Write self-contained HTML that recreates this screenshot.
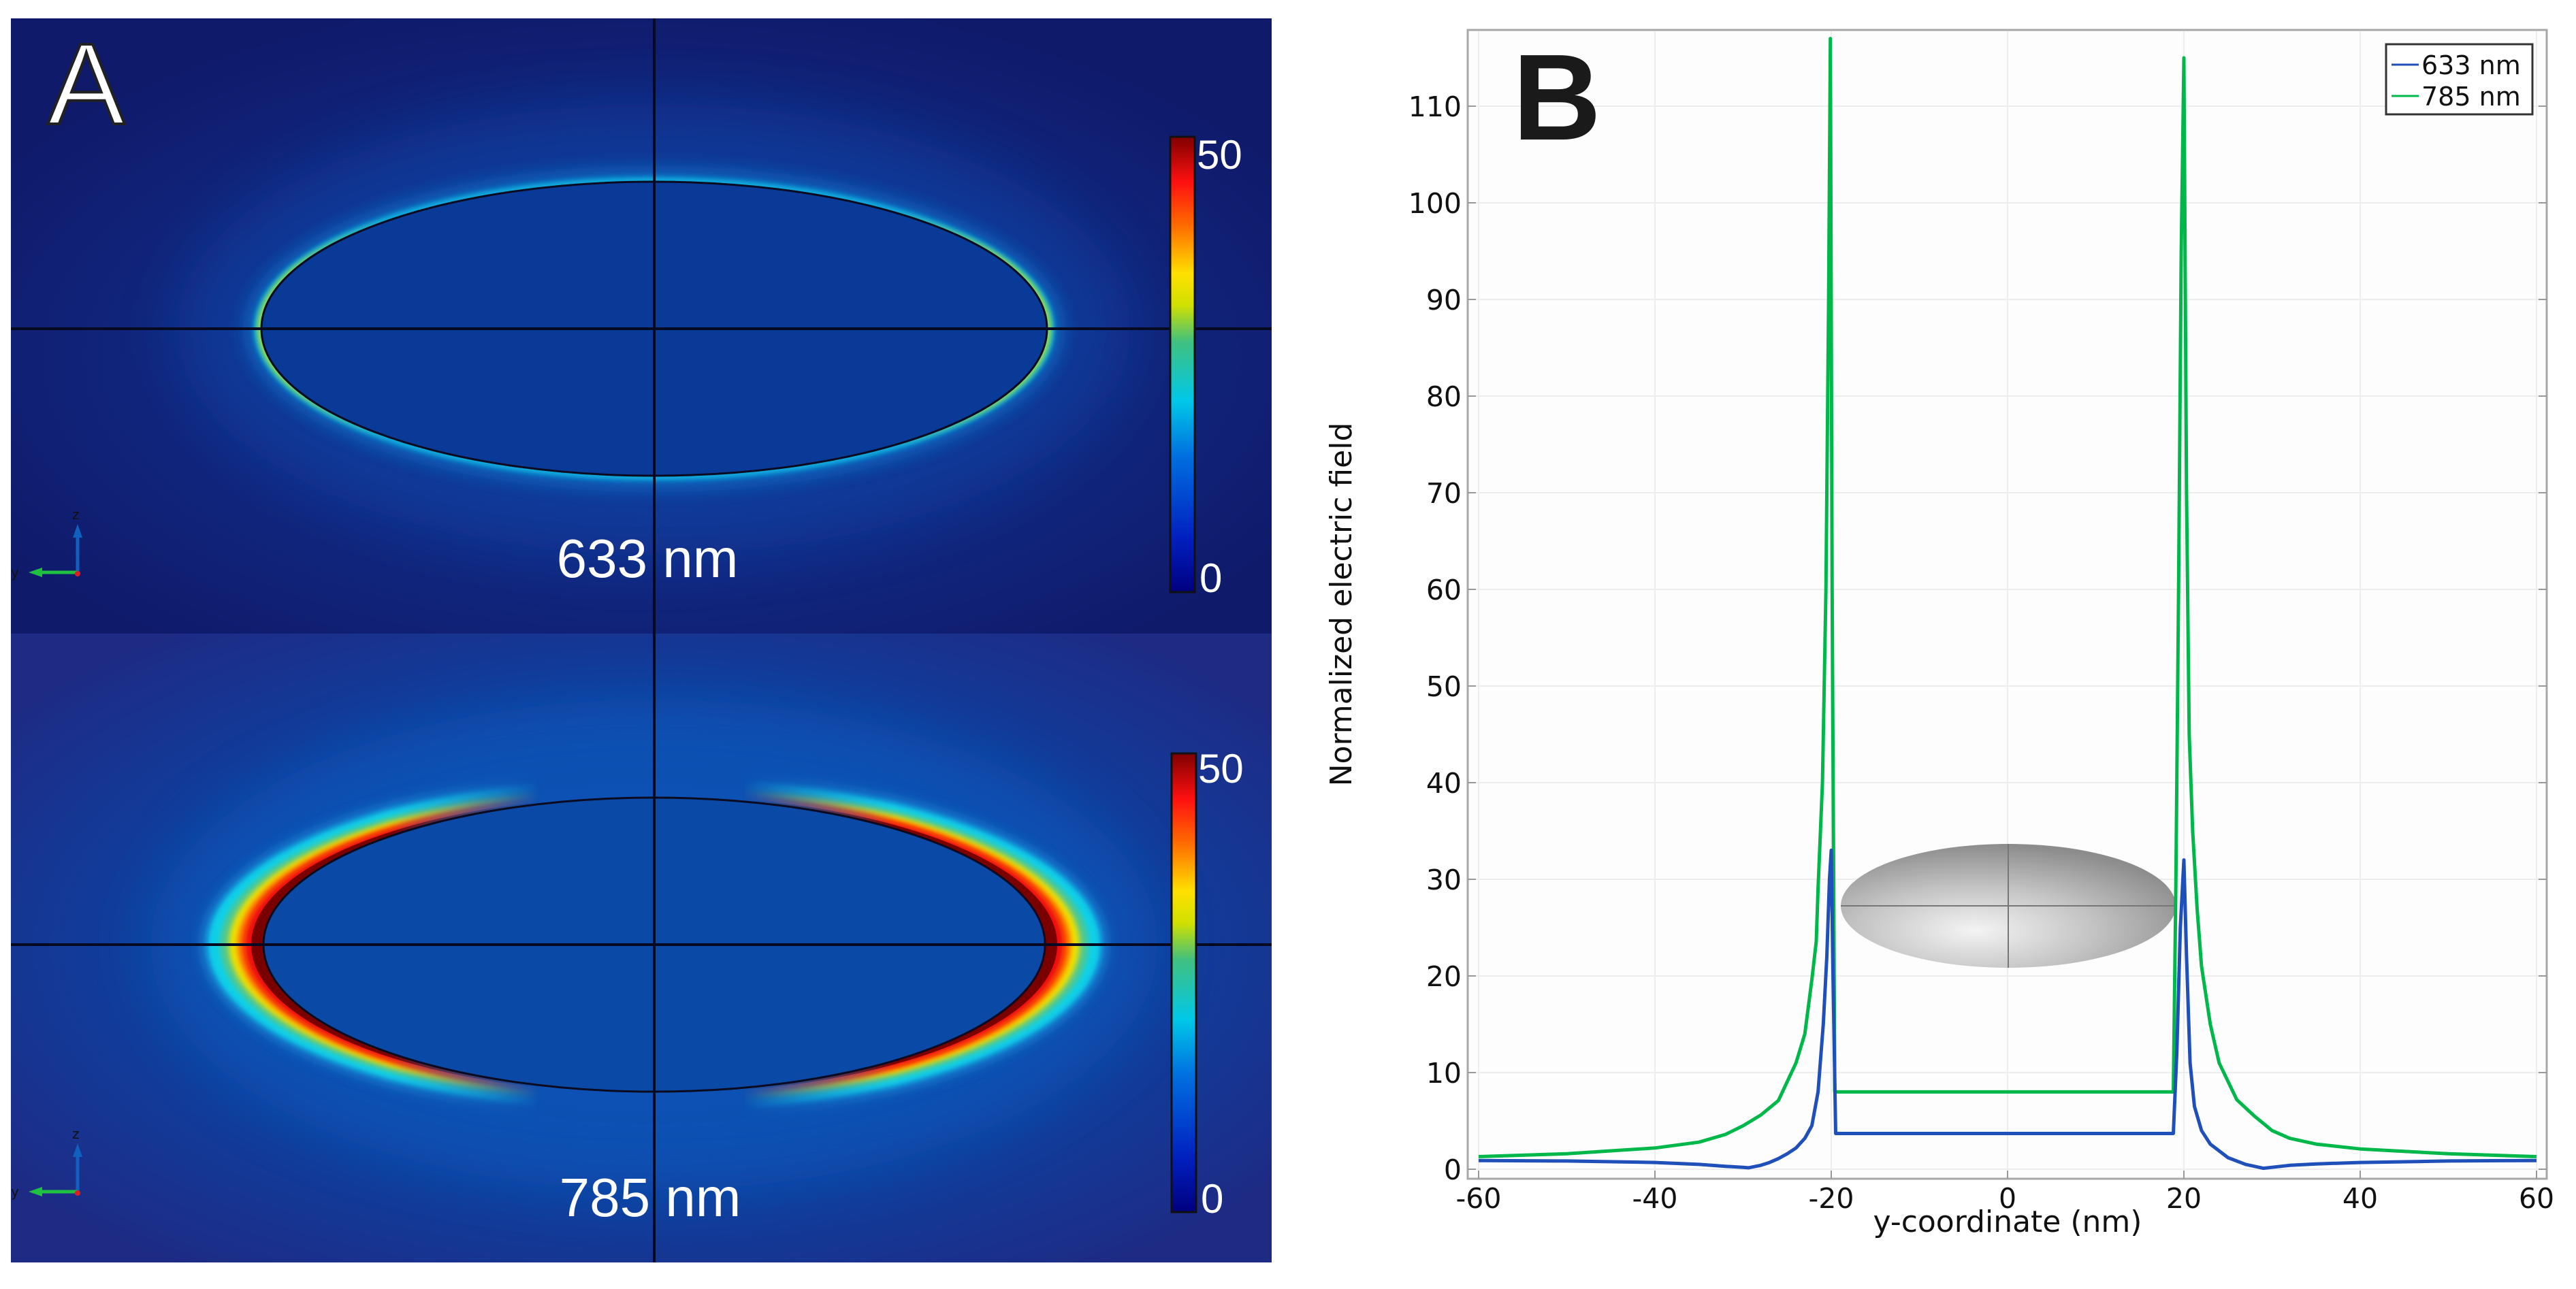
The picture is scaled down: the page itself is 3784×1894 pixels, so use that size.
<!DOCTYPE html>
<html><head><meta charset="utf-8">
<style>
html,body{margin:0;padding:0;background:#fff;}
svg{display:block;}
text{font-family:"DejaVu Sans","Liberation Sans",sans-serif;}
.lib{font-family:"Liberation Sans",sans-serif;}
</style></head>
<body>
<svg id="fig" width="3784" height="1894" viewBox="0 0 3784 1894" xmlns="http://www.w3.org/2000/svg">
<defs>
  <radialGradient id="bgTop" cx="0.5" cy="0.55" r="0.6">
    <stop offset="0" stop-color="#0d3a9e"/>
    <stop offset="0.45" stop-color="#122c88"/>
    <stop offset="1" stop-color="#0f1a6a"/>
  </radialGradient>
  <radialGradient id="bgBot" cx="0.5" cy="0.5" r="0.62">
    <stop offset="0" stop-color="#0a4fb0"/>
    <stop offset="0.55" stop-color="#0c44a4"/>
    <stop offset="1" stop-color="#1d2b85"/>
  </radialGradient>
  <linearGradient id="jet" x1="0" y1="1" x2="0" y2="0">
    <stop offset="0" stop-color="#00007f"/>
    <stop offset="0.12" stop-color="#0020c0"/>
    <stop offset="0.3" stop-color="#0070e0"/>
    <stop offset="0.42" stop-color="#00c8e8"/>
    <stop offset="0.55" stop-color="#40c080"/>
    <stop offset="0.63" stop-color="#d0e000"/>
    <stop offset="0.7" stop-color="#ffe000"/>
    <stop offset="0.8" stop-color="#ff7000"/>
    <stop offset="0.9" stop-color="#ff1010"/>
    <stop offset="1" stop-color="#800000"/>
  </linearGradient>
  <linearGradient id="endsMask" x1="0" y1="0" x2="1" y2="0">
    <stop offset="0" stop-color="#fff"/>
    <stop offset="0.3" stop-color="#fff"/>
    <stop offset="0.42" stop-color="#000"/>
    <stop offset="0.58" stop-color="#000"/>
    <stop offset="0.7" stop-color="#fff"/>
    <stop offset="1" stop-color="#fff"/>
  </linearGradient>
  <linearGradient id="endsMaskTight" x1="0" y1="0" x2="1" y2="0">
    <stop offset="0" stop-color="#fff"/>
    <stop offset="0.22" stop-color="#fff"/>
    <stop offset="0.3" stop-color="#000"/>
    <stop offset="0.7" stop-color="#000"/>
    <stop offset="0.78" stop-color="#fff"/>
    <stop offset="1" stop-color="#fff"/>
  </linearGradient>
  <mask id="mEnds" maskUnits="userSpaceOnUse" x="16" y="931" width="1852" height="930">
    <rect x="16" y="931" width="1852" height="930" fill="url(#endsMask)"/>
  </mask>
  <mask id="mEndsTop" maskUnits="userSpaceOnUse" x="16" y="27" width="1852" height="904">
    <rect x="16" y="27" width="1852" height="904" fill="url(#endsMaskTight)"/>
  </mask>
  <filter id="b4"><feGaussianBlur stdDeviation="4"/></filter>
  <filter id="b10"><feGaussianBlur stdDeviation="10"/></filter>
  <filter id="b40" x="-30%" y="-50%" width="160%" height="200%"><feGaussianBlur stdDeviation="40"/></filter>
  <radialGradient id="sph" cx="0.4" cy="0.7" r="0.7">
    <stop offset="0" stop-color="#f4f4f4"/>
    <stop offset="0.5" stop-color="#c4c4c4"/>
    <stop offset="1" stop-color="#8c8c8c"/>
  </radialGradient>
</defs>

<!-- PANEL A TOP -->
<g>
  <rect x="16" y="27" width="1852" height="904" fill="url(#bgTop)"/>
  <ellipse cx="961" cy="483" rx="700" ry="330" fill="#0f46a8" opacity="0.5" filter="url(#b40)"/>
  <ellipse cx="961" cy="483" rx="605" ry="240" fill="#0a70c8" opacity="0.6" filter="url(#b10)"/>
  <ellipse cx="961" cy="483" rx="588" ry="223" fill="#10b0e0" filter="url(#b4)"/>
  <ellipse cx="961" cy="483" rx="583" ry="218" fill="#a0e040" filter="url(#b4)" mask="url(#mEndsTop)"/>
  <ellipse cx="961" cy="483" rx="577" ry="216" fill="#0a3a98" stroke="#0a0a20" stroke-width="3"/>
  <line x1="16" y1="483" x2="1868" y2="483" stroke="#050a20" stroke-width="4"/>
  <text class="lib" x="951" y="848" font-size="80" fill="#fff" text-anchor="middle">633 nm</text>
</g>

<!-- PANEL A BOTTOM -->
<g>
  <rect x="16" y="931" width="1852" height="924" fill="url(#bgBot)"/>
  <ellipse cx="961" cy="1388" rx="740" ry="360" fill="#0a58bb" opacity="0.6" filter="url(#b40)"/>
  <ellipse cx="961" cy="1388" rx="662" ry="250" fill="#1a9be0" filter="url(#b10)" mask="url(#mEnds)"/>
  <g mask="url(#mEnds)">
    <ellipse cx="961" cy="1388" rx="655" ry="245" fill="#08d0e8" filter="url(#b4)"/>
    <ellipse cx="961" cy="1388" rx="638" ry="236" fill="#50c890" filter="url(#b4)"/>
    <ellipse cx="961" cy="1388" rx="625" ry="230" fill="#f0e000" filter="url(#b4)"/>
    <ellipse cx="961" cy="1388" rx="612" ry="226" fill="#ff6a00" filter="url(#b4)"/>
    <ellipse cx="961" cy="1388" rx="602" ry="222" fill="#ee1010" filter="url(#b4)"/>
    <ellipse cx="961" cy="1388" rx="592" ry="219" fill="#7a0000"/>
  </g>
  <ellipse cx="961" cy="1388" rx="574" ry="216" fill="#0a4aa6" stroke="#0a0a20" stroke-width="3"/>
  <line x1="16" y1="1388" x2="1868" y2="1388" stroke="#050a20" stroke-width="4"/>
  <text class="lib" x="955" y="1787" font-size="80" fill="#fff" text-anchor="middle">785 nm</text>
</g>
<line x1="961" y1="27" x2="961" y2="1855" stroke="#050a20" stroke-width="4"/>

<!-- colorbars -->
<g>
  <rect x="1719" y="201" width="36" height="669" fill="url(#jet)" stroke="#111" stroke-width="3"/>
  <text class="lib" x="1758" y="248" font-size="60" fill="#fff">50</text>
  <text class="lib" x="1762" y="870" font-size="60" fill="#fff">0</text>
</g>
<g>
  <rect x="1721" y="1107" width="36" height="674" fill="url(#jet)" stroke="#111" stroke-width="3"/>
  <text class="lib" x="1760" y="1150" font-size="60" fill="#fff">50</text>
  <text class="lib" x="1764" y="1782" font-size="60" fill="#fff">0</text>
</g>

<!-- triads -->
<g>
  <line x1="114" y1="841" x2="114" y2="782" stroke="#1060c0" stroke-width="5"/><polygon points="107,790 121,790 114,770" fill="#1060c0"/>
  <line x1="114" y1="841" x2="55" y2="841" stroke="#20c040" stroke-width="5"/><polygon points="62,834 62,848 42,841" fill="#20c040"/>
  <circle cx="114" cy="843" r="4" fill="#e02020"/>
  <text x="106" y="763" font-size="20" fill="#111">z</text><text x="16" y="848" font-size="20" fill="#111">y</text>
</g>
<g>
  <line x1="114" y1="1751" x2="114" y2="1692" stroke="#1060c0" stroke-width="5"/><polygon points="107,1700 121,1700 114,1680" fill="#1060c0"/>
  <line x1="114" y1="1751" x2="55" y2="1751" stroke="#20c040" stroke-width="5"/><polygon points="62,1744 62,1758 42,1751" fill="#20c040"/>
  <circle cx="114" cy="1753" r="4" fill="#e02020"/>
  <text x="106" y="1673" font-size="20" fill="#111">z</text><text x="16" y="1758" font-size="20" fill="#111">y</text>
</g>
<text class="lib" x="70" y="182" font-size="170" fill="#fff" stroke="#222" stroke-width="4">A</text>

<!-- PANEL B -->
<g id="chartB">
  <rect x="2156" y="44" width="1585" height="1688" fill="#fdfdfd" stroke="#a8a8a8" stroke-width="3"/>
  <g id="grid"></g>
  <g id="ticks"></g>
  <ellipse cx="2950" cy="1331" rx="246" ry="91" fill="url(#sph)"/>
  <line x1="2704" y1="1331" x2="3196" y2="1331" stroke="#777" stroke-width="2"/>
  <line x1="2950" y1="1240" x2="2950" y2="1422" stroke="#777" stroke-width="2"/>
  <g id="series"></g>
  <text class="lib" x="2222" y="205" font-size="180" font-weight="bold" fill="#1a1a1a">B</text>
  <g>
    <rect x="3505" y="65" width="215" height="103" fill="#fff" stroke="#333" stroke-width="3"/>
    <line x1="3513" y1="95" x2="3553" y2="95" stroke="#1f4fb8" stroke-width="3"/>
    <text x="3557" y="109" font-size="38" fill="#111">633 nm</text>
    <line x1="3513" y1="141" x2="3553" y2="141" stroke="#00b84a" stroke-width="3"/>
    <text x="3557" y="155" font-size="38" fill="#111">785 nm</text>
  </g>
  <text x="2949" y="1810" font-size="44" fill="#111" text-anchor="middle">y-coordinate (nm)</text>
  <text transform="translate(1985,888) rotate(-90)" font-size="44" fill="#111" text-anchor="middle">Normalized electric field</text>
</g>
</svg>
<script>
const xTicks = [-60,-40,-20,0,20,40,60];
const yTicks = [0,10,20,30,40,50,60,70,80,90,100,110];
const x633 = [-60,-50,-40,-35,-32,-30,-29.4,-28,-27,-26,-25,-24,-23,-22.2,-21.5,-20.9,-20.5,-20.2,-20,-19.8,-19.5,0,18.8,19.2,19.6,20,20.3,20.7,21.2,22,23,25,27,29,30,32,35,40,50,60];
const y633 = [0.9,0.85,0.7,0.5,0.3,0.2,0.15,0.4,0.7,1.1,1.6,2.2,3.2,4.5,8,15,22,30,33,20,3.7,3.7,3.7,12,25,32,22,11,6.5,4,2.6,1.2,0.5,0.1,0.2,0.4,0.55,0.7,0.85,0.9];
const x785 = [-60,-50,-45,-40,-35,-32,-30,-28,-26,-24,-23,-22.2,-21.7,-21.5,-21,-20.6,-20.3,-20.1,-19.9,-19.6,0,18.8,19.1,19.4,19.7,20,20.3,20.6,21,21.5,22,23,24,26,28,30,32,35,40,50,60];
const y785 = [1.3,1.6,1.9,2.2,2.8,3.6,4.5,5.6,7.1,11,14,19.6,23.6,29,40,60,90,117,60,8,8,8,30,60,95,115,70,45,35,27,21,15,11,7.2,5.5,4,3.2,2.6,2.1,1.6,1.3];

const NS = "http://www.w3.org/2000/svg";
const X = v => 2949 + v * 12.95;
const Y = v => 1718 - v * 14.2;
function mk(tag, attrs, parent){ const e=document.createElementNS(NS,tag); for(const k in attrs) e.setAttribute(k,attrs[k]); parent.appendChild(e); return e; }
const grid=document.getElementById('grid'), ticks=document.getElementById('ticks'), series=document.getElementById('series');
xTicks.forEach(t=>{
  const gl = mk('line',{x1:X(t),x2:X(t),y1:46,y2:1730,stroke:'#ededed','stroke-width':2},grid);
  
  
  mk('line',{x1:X(t),x2:X(t),y1:1732,y2:1720,stroke:'#999','stroke-width':2},ticks);
  const lb = mk('text',{x:X(t),y:1775,'font-size':41,fill:'#111','text-anchor':'middle'},ticks);
  lb.textContent=String(t);
  
  
});
yTicks.forEach(t=>{
  const gl = mk('line',{x1:2158,x2:3739,y1:Y(t),y2:Y(t),stroke:'#ededed','stroke-width':2},grid);
  
  
  mk('line',{x1:2156,x2:2168,y1:Y(t),y2:Y(t),stroke:'#999','stroke-width':2},ticks);
  mk('line',{x1:3729,x2:3741,y1:Y(t),y2:Y(t),stroke:'#999','stroke-width':2},ticks);
  const lb = mk('text',{x:2147,y:Y(t)+15,'font-size':41,fill:'#111','text-anchor':'end'},ticks);
  lb.textContent=String(t);
  
  
});
function line(xs,ys,color,name){
  const d = xs.map((x,i)=>(i?'L':'M')+X(x).toFixed(1)+','+Y(ys[i]).toFixed(1)).join(' ');
  const p = mk('path',{d:d,fill:'none',stroke:color,'stroke-width':5,'stroke-linejoin':'round'},series);
  
  
}
line(x785,y785,'#00b84a','series-785nm');
line(x633,y633,'#1f4fb8','series-633nm');
</script>
</body></html>
